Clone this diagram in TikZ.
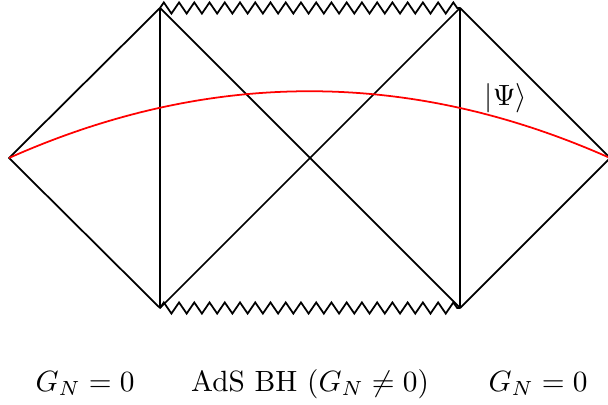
\documentclass[tikz,border=0pt]{standalone}
\usetikzlibrary{decorations.pathmorphing}
\begin{document}
\begin{tikzpicture}[
    x=0.012cm, y=-0.012cm,
    edge/.style={semithick, line join=round},
    sing/.style={semithick, decorate, decoration={zigzag, segment length=5.2pt, amplitude=1.9pt}},
    state/.style={semithick, red},
    lbl/.style={inner sep=0pt, anchor=base}
]
\useasboundingbox (0,0) rectangle (608,405);
% corners of the Penrose diagram
\coordinate (L) at (9,158);
\coordinate (TL) at (160,8);
\coordinate (BL) at (160,308);
\coordinate (TR) at (460,8);
\coordinate (BR) at (460,308);
\coordinate (R) at (610,158);

% left and right boundaries
\draw[edge] (L) -- (TL) -- (BL) -- cycle;
\draw[edge] (R) -- (TR) -- (BR) -- cycle;
% horizons
\draw[edge] (TL) -- (BR);
\draw[edge] (BL) -- (TR);
% singularities
\draw[sing] (TL) -- (TR);
\draw[sing] (BL) -- (BR);

% state
\draw[state] (L) .. controls (209,69) and (410,69) .. (R);
\node[lbl] (psi) at (506,106) {$|\Psi\rangle$};

% labels
\node[lbl] (left) at (85,391) {$G_N = 0$};
\node[lbl] (bh) at (310,391) {AdS BH ($G_N \neq 0$)};
\node[lbl] (right) at (538,391) {$G_N = 0$};
\end{tikzpicture}
\end{document}
